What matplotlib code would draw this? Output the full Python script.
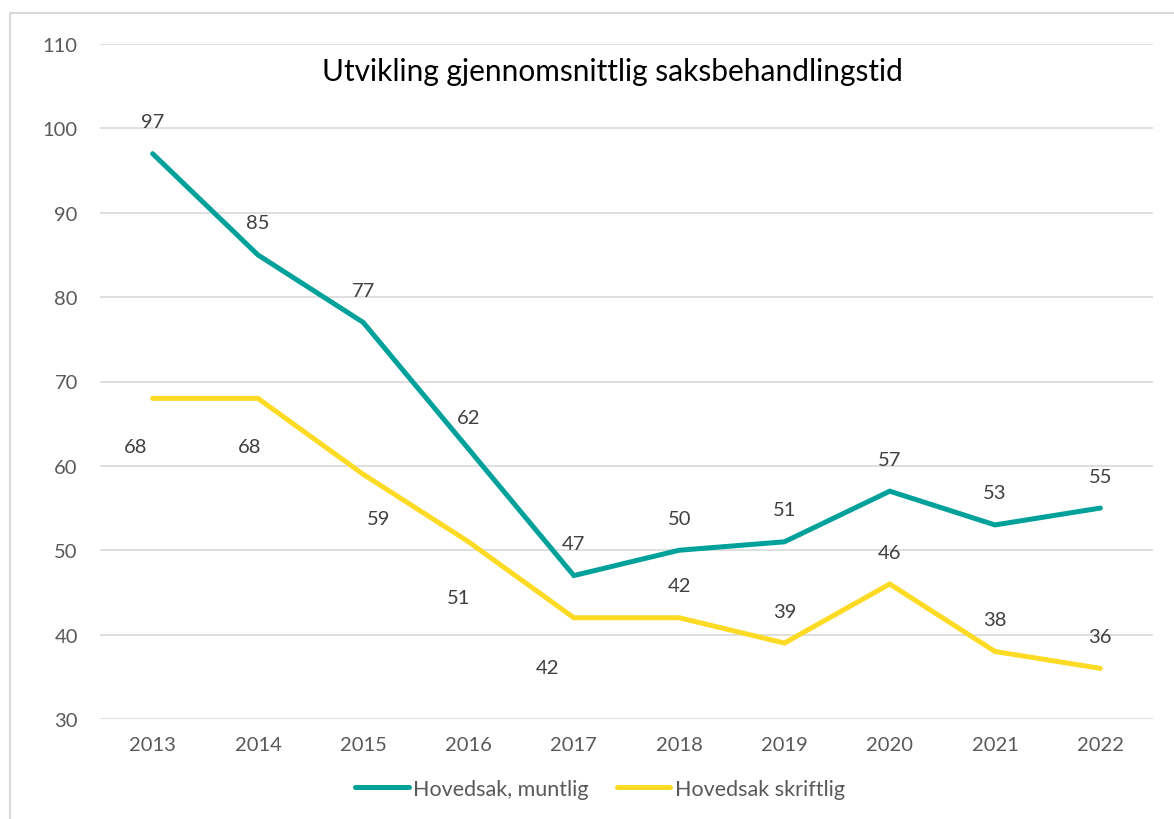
import matplotlib.pyplot as plt
from matplotlib.patches import Rectangle

aar = ["2013", "2014", "2015", "2016", "2017", "2018", "2019", "2020", "2021", "2022"]
muntlig = [97, 85, 77, 62, 47, 50, 51, 57, 53, 55]
skriftlig = [68, 68, 59, 51, 42, 42, 39, 46, 38, 36]

# etikettforskyvning i punkter (x, y)
off_muntlig = [(0, 23), (0, 23), (0, 23), (0, 23), (0, 23), (0, 23), (0, 23), (0, 23), (0, 23), (0, 23)]
off_skriftlig = [(-12, -35), (-6, -35), (11, -32), (-7, -40), (-19, -36), (0, 23), (0, 23), (0, 23), (0, 23), (0, 23)]

teal = "#00A19A"
gul = "#FDDA24"
tekst = "#595959"

plt.rcParams['font.family'] = ['Lato', 'DejaVu Sans']

fig = plt.figure(figsize=(11.74, 8.2), dpi=100)
ax = fig.add_axes([100 / 1174, 1 - 720 / 820, 1053 / 1174, 675 / 820])

x = range(len(aar))
ax.plot(x, muntlig, color=teal, lw=3.6, solid_capstyle='round', solid_joinstyle='miter', label="Hovedsak, muntlig")
ax.plot(x, skriftlig, color=gul, lw=3.6, solid_capstyle='round', solid_joinstyle='miter', label="Hovedsak skriftlig")

for i, v in enumerate(muntlig):
    ax.annotate(str(v), (i, v), xytext=off_muntlig[i], textcoords='offset points',
                ha='center', va='center', fontsize=14.5, color="#404040")
for i, v in enumerate(skriftlig):
    ax.annotate(str(v), (i, v), xytext=off_skriftlig[i], textcoords='offset points',
                ha='center', va='center', fontsize=14.5, color="#404040")

ax.set_xlim(-0.5, len(aar) - 0.5)
ax.set_ylim(30, 110)
ax.set_yticks(range(30, 111, 10))
ax.set_xticks(list(x))
ax.set_xticklabels(aar)
ax.grid(axis='y', color="#D9D9D9", lw=1.2)
ax.set_axisbelow(True)
for s in ax.spines.values():
    s.set_visible(False)
ax.tick_params(length=0, labelsize=14.5, colors=tekst, pad=12)
ax.tick_params(axis='y', pad=16)

ax.text(0.487, 0.96, "Utvikling gjennomsnittlig saksbehandlingstid", transform=ax.transAxes,
        ha='center', va='center', fontsize=21.5, color="black")

fig.legend(loc='center', bbox_to_anchor=(0.511, 1 - 790 / 820), ncol=2, frameon=False,
           fontsize=15.5, labelcolor=tekst, handlelength=2.5, handletextpad=0.2, columnspacing=1.3)

fig.patches.append(Rectangle((10 / 1174, -0.01), 1.2, 1 - 14 / 820 + 0.01, transform=fig.transFigure,
                             fill=False, edgecolor="#D9D9D9", lw=1.5))

fig.savefig("out.png", dpi=100)
